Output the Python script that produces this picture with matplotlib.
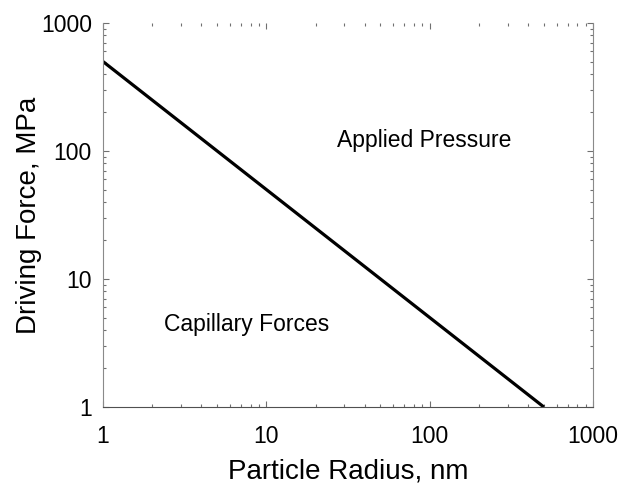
import matplotlib
matplotlib.use('Agg')
import matplotlib.pyplot as plt
from matplotlib.ticker import LogLocator, NullFormatter, FixedLocator, FixedFormatter

plt.rcParams['font.family'] = ['Liberation Sans', 'DejaVu Sans']

# boundary between the two regimes (slope -1 on log-log)
radius_nm = [1, 500]
force_mpa = [500, 1]

x_ticks = [1, 10, 100, 1000]
y_ticks = [1, 10, 100, 1000]
tick_labels = ['1', '10', '100', '1000']

fig = plt.figure(figsize=(6.21, 4.84), dpi=100)
ax = fig.add_axes([103 / 621, 1 - 407 / 484, 490 / 621, 384 / 484])

ax.plot(radius_nm, force_mpa, color='black', linewidth=2.3, solid_capstyle='butt')

ax.set_xscale('log')
ax.set_yscale('log')
ax.set_xlim(1, 1000)
ax.set_ylim(1, 1000)

ax.xaxis.set_major_locator(FixedLocator(x_ticks))
ax.xaxis.set_major_formatter(FixedFormatter(tick_labels))
ax.yaxis.set_major_locator(FixedLocator(y_ticks))
ax.yaxis.set_major_formatter(FixedFormatter(tick_labels))
for axis in (ax.xaxis, ax.yaxis):
    axis.set_minor_locator(LogLocator(base=10, subs=range(2, 10)))
    axis.set_minor_formatter(NullFormatter())

ax.tick_params(which='both', direction='in', top=True, right=True, color='#707070', width=0.8)
ax.tick_params(which='major', length=4)
ax.tick_params(which='minor', length=2.5)
ax.tick_params(axis='x', which='major', labelsize=16.5, pad=13)
ax.tick_params(axis='y', which='major', labelsize=16.5, pad=8)

ax.spines['top'].set_visible(False)
ax.spines['left'].set_color('#8a8a8a')
ax.spines['right'].set_color('#8a8a8a')
ax.spines['bottom'].set_color('#505050')

ax.set_xlabel('Particle Radius, nm', fontsize=20)
ax.set_ylabel('Driving Force, MPa', fontsize=20)
ax.xaxis.set_label_coords(0.5, -0.135)
ax.yaxis.set_label_coords(-0.125, 0.5)

ax.text(92, 120, 'Applied Pressure', fontsize=16.5, ha='center', va='center')
ax.text(7.6, 4.4, 'Capillary Forces', fontsize=16.5, ha='center', va='center')

plt.savefig('out.png', dpi=100)
